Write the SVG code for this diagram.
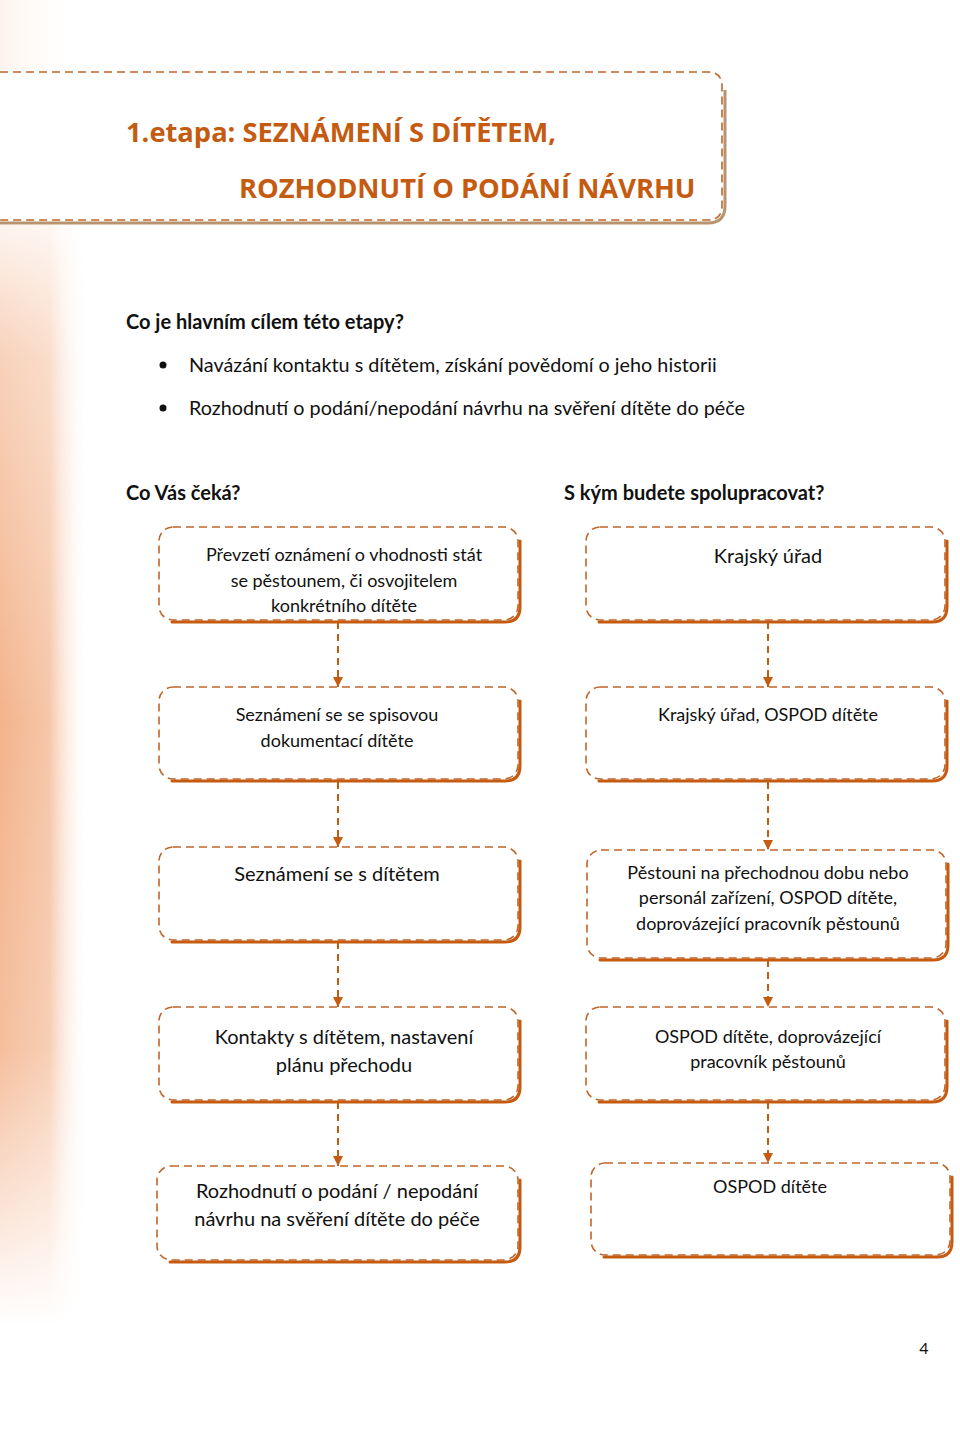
<svg xmlns="http://www.w3.org/2000/svg" width="960" height="1453" viewBox="0 0 960 1453">
<defs>
<linearGradient id="side" x1="0" y1="0" x2="1" y2="0">
<stop offset="0" stop-color="#f3b38c"/>
<stop offset="0.55" stop-color="#f6c6a8"/>
<stop offset="1" stop-color="#ffffff" stop-opacity="0"/>
</linearGradient>
<linearGradient id="sideV" x1="0" y1="0" x2="0" y2="1">
<stop offset="0" stop-color="#fff" stop-opacity="0.15"/>
<stop offset="0.12" stop-color="#fff" stop-opacity="0.6"/>
<stop offset="0.45" stop-color="#fff" stop-opacity="1"/>
<stop offset="0.75" stop-color="#fff" stop-opacity="0.85"/>
<stop offset="1" stop-color="#fff" stop-opacity="0"/>
</linearGradient>
<mask id="sideMask">
<rect x="0" y="225" width="90" height="1100" fill="url(#sideV)"/>
</mask>
<linearGradient id="tl" x1="0" y1="0" x2="1" y2="0">
<stop offset="0" stop-color="#fdf3ec"/>
<stop offset="1" stop-color="#ffffff" stop-opacity="0"/>
</linearGradient>
<marker id="arr" viewBox="0 0 10 10" refX="10" refY="5" markerWidth="10" markerHeight="10" markerUnits="userSpaceOnUse" orient="auto">
<path d="M0,0 L10,5 L0,10 Z" fill="#c55a11"/>
</marker>
</defs>
<style>
.box{fill:#ffffff;stroke:#c0662a;stroke-width:1.6;stroke-dasharray:8 5}
.sh{fill:none;stroke:#c55a11;stroke-width:3;stroke-linecap:round}
.t{font-family:Lato,"Liberation Sans",sans-serif;fill:#111;text-anchor:middle}
.s17{font-size:18px}
.s19{font-size:20px}
.h{font-family:Lato,"Liberation Sans",sans-serif;font-weight:bold;font-size:20px;fill:#111}
.b{font-family:Lato,"Liberation Sans",sans-serif;font-size:19.8px;fill:#111}
.title{font-family:"Open Sans",Lato,sans-serif;font-weight:bold;font-size:27.3px;fill:#c55a11}
.con{fill:none;stroke:#c55a11;stroke-width:2;stroke-dasharray:7 5}
</style>
<rect x="0" y="0" width="960" height="1453" fill="#ffffff"/>
<rect x="0" y="0" width="80" height="70" fill="url(#tl)"/>
<rect x="0" y="225" width="90" height="1100" fill="url(#side)" mask="url(#sideMask)"/>

<g id="title">
<path d="M0,223 L708,223 Q725,223 725,206 L725,90" fill="none" stroke="#b7946f" stroke-width="3"/>
<path d="M0,72 L708,72 Q722,72 722,86 L722,206 Q722,220 708,220 L0,220" fill="#ffffff" stroke="#c0662a" stroke-width="1.6" stroke-dasharray="8 5"/>
<text class="title" x="126" y="142">1.etapa: SEZNÁMENÍ S DÍTĚTEM,</text>
<text class="title" x="239" y="198">ROZHODNUTÍ O PODÁNÍ NÁVRHU</text>
</g>

<g id="intro">
<text class="h" x="126" y="329">Co je hlavním cílem této etapy?</text>
<circle cx="163" cy="365" r="3.5" fill="#111"/>
<text class="b" x="189" y="372">Navázání kontaktu s dítětem, získání povědomí o jeho historii</text>
<circle cx="163" cy="408" r="3.5" fill="#111"/>
<text class="b" x="189" y="415">Rozhodnutí o podání/nepodání návrhu na svěření dítěte do péče</text>
<text class="h" x="126" y="500">Co Vás čeká?</text>
<text class="h" x="564" y="500">S kým budete spolupracovat?</text>
</g>

<g id="connectors">
<path class="con" d="M338,622 V687" marker-end="url(#arr)"/>
<path class="con" d="M338,782 V847" marker-end="url(#arr)"/>
<path class="con" d="M338,942 V1007" marker-end="url(#arr)"/>
<path class="con" d="M338,1102 V1166" marker-end="url(#arr)"/>
<path class="con" d="M768,622 V687" marker-end="url(#arr)"/>
<path class="con" d="M768,782 V850" marker-end="url(#arr)"/>
<path class="con" d="M768,960 V1007" marker-end="url(#arr)"/>
<path class="con" d="M768,1102 V1163" marker-end="url(#arr)"/>
</g>

<g id="n1">
<path class="sh" d="M520,541 V607 Q520,622 505,622 H172"/>
<rect class="box" x="159" y="527" width="359" height="93" rx="14"/>
<text class="t s17" x="344" y="561">Převzetí oznámení o vhodnosti stát</text>
<text class="t s17" x="344" y="587">se pěstounem, či osvojitelem</text>
<text class="t s17" x="344" y="612">konkrétního dítěte</text>
</g>
<g id="n2">
<path class="sh" d="M520,701 V766 Q520,781 505,781 H172"/>
<rect class="box" x="159" y="687" width="359" height="92" rx="14"/>
<text class="t s17" x="337" y="721">Seznámení se se spisovou</text>
<text class="t s17" x="337" y="747">dokumentací dítěte</text>
</g>
<g id="n3">
<path class="sh" d="M520,861 V927 Q520,942 505,942 H172"/>
<rect class="box" x="159" y="847" width="359" height="93" rx="14"/>
<text class="t s19" x="337" y="881">Seznámení se s dítětem</text>
</g>
<g id="n4">
<path class="sh" d="M520,1021 V1087 Q520,1102 505,1102 H172"/>
<rect class="box" x="159" y="1007" width="359" height="93" rx="14"/>
<text class="t s19" x="344" y="1044">Kontakty s dítětem, nastavení</text>
<text class="t s19" x="344" y="1072">plánu přechodu</text>
</g>
<g id="n5">
<path class="sh" d="M520,1180 V1247 Q520,1262 505,1262 H170"/>
<rect class="box" x="157" y="1166" width="361" height="94" rx="14"/>
<text class="t s19" x="337" y="1198">Rozhodnutí o podání / nepodání</text>
<text class="t s19" x="337" y="1226">návrhu na svěření dítěte do péče</text>
</g>

<g id="m1">
<path class="sh" d="M947,541 V607 Q947,622 932,622 H599"/>
<rect class="box" x="586" y="527" width="359" height="93" rx="14"/>
<text class="t s19" x="768" y="563">Krajský úřad</text>
</g>
<g id="m2">
<path class="sh" d="M947,701 V766 Q947,781 932,781 H599"/>
<rect class="box" x="586" y="687" width="359" height="92" rx="14"/>
<text class="t s17" x="768" y="721">Krajský úřad, OSPOD dítěte</text>
</g>
<g id="m3">
<path class="sh" d="M948,864 V945 Q948,960 933,960 H600"/>
<rect class="box" x="587" y="850" width="359" height="108" rx="14"/>
<text class="t s17" x="768" y="879">Pěstouni na přechodnou dobu nebo</text>
<text class="t s17" x="768" y="904">personál zařízení, OSPOD dítěte,</text>
<text class="t s17" x="768" y="930">doprovázející pracovník pěstounů</text>
</g>
<g id="m4">
<path class="sh" d="M947,1021 V1087 Q947,1102 932,1102 H599"/>
<rect class="box" x="586" y="1007" width="359" height="93" rx="14"/>
<text class="t s17" x="768" y="1043">OSPOD dítěte, doprovázející</text>
<text class="t s17" x="768" y="1068">pracovník pěstounů</text>
</g>
<g id="m5">
<path class="sh" d="M952,1177 V1242 Q952,1257 937,1257 H604"/>
<rect class="box" x="591" y="1163" width="359" height="92" rx="14"/>
<text class="t s17" x="770" y="1193">OSPOD dítěte</text>
</g>

<text x="924" y="1354" font-family="Lato,'Liberation Sans',sans-serif" font-size="16" fill="#111" text-anchor="middle">4</text>
</svg>
